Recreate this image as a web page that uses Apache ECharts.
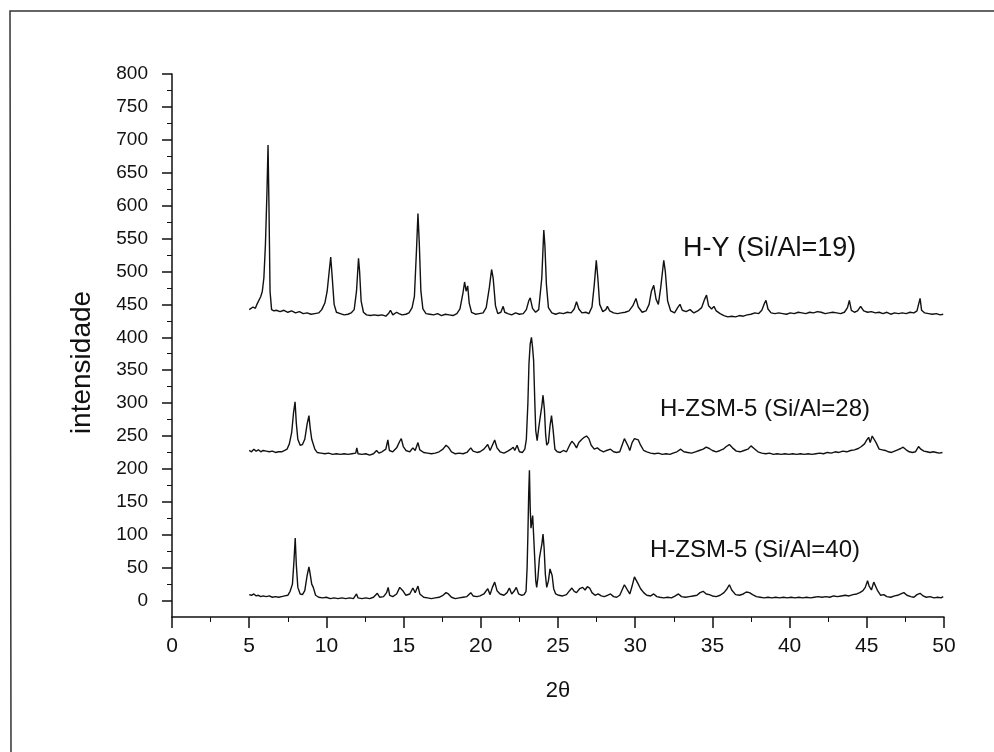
<!DOCTYPE html>
<html>
<head>
<meta charset="UTF-8">
<title>DRX zeolitas</title>
<script src="https://cdn.jsdelivr.net/npm/echarts@6/dist/echarts.min.js"></script>
<style>
  html, body { margin: 0; padding: 0; background: #fff; }
</style>
</head>
<body>
<div id="main" style="width: 994px; height: 752px;"></div>
<script>
// 2θ / intensidade pairs
const hyData = [
  [5.0,442],[5.1,440],[5.25,446],[5.4,444],[5.5,450],[5.6,452],[5.75,462],[5.85,470],[5.95,490],[6.05,540],[6.15,620],[6.22,692],[6.28,600],[6.35,470],[6.45,442],[6.6,440],[6.75,441],[7.0,439],[7.25,441],[7.5,438],[7.75,440],[8.0,437],[8.25,439],[8.5,436],[8.75,437],[9.0,435],[9.25,436],[9.5,437],[9.7,442],[9.9,452],[10.05,470],[10.18,500],[10.28,522],[10.38,490],[10.5,450],[10.65,438],[10.9,436],[11.15,434],[11.4,435],[11.6,437],[11.8,442],[11.95,470],[12.08,520],[12.15,500],[12.25,455],[12.4,438],[12.6,434],[12.85,433],[13.1,434],[13.35,433],[13.6,434],[13.85,432],[14.05,437],[14.15,441],[14.3,434],[14.55,438],[14.7,436],[14.9,434],[15.15,435],[15.35,437],[15.55,445],[15.7,462],[15.83,530],[15.93,588],[16.02,540],[16.12,470],[16.25,443],[16.45,436],[16.7,435],[16.95,434],[17.2,436],[17.45,433],[17.7,435],[17.95,434],[18.2,433],[18.45,436],[18.65,443],[18.85,468],[18.95,484],[19.05,470],[19.15,478],[19.25,452],[19.4,438],[19.65,435],[19.9,436],[20.15,437],[20.35,445],[20.55,475],[20.7,503],[20.8,490],[20.95,448],[21.1,436],[21.3,438],[21.45,447],[21.55,438],[21.75,436],[22.0,434],[22.25,437],[22.5,435],[22.75,436],[22.95,442],[23.1,455],[23.2,460],[23.35,444],[23.55,438],[23.75,442],[23.95,490],[24.08,563],[24.15,540],[24.25,480],[24.38,445],[24.6,437],[24.85,435],[25.1,437],[25.35,436],[25.6,438],[25.85,437],[26.05,443],[26.2,454],[26.35,443],[26.55,437],[26.8,438],[27.0,436],[27.2,446],[27.35,480],[27.48,517],[27.58,490],[27.7,450],[27.9,439],[28.1,442],[28.2,447],[28.35,440],[28.6,437],[28.85,436],[29.1,437],[29.35,438],[29.6,440],[29.85,448],[30.05,459],[30.2,446],[30.45,438],[30.7,440],[30.9,450],[31.05,470],[31.2,479],[31.35,458],[31.5,450],[31.65,475],[31.85,517],[31.95,500],[32.1,455],[32.3,440],[32.55,437],[32.75,445],[32.9,450],[33.05,441],[33.3,439],[33.55,442],[33.8,437],[34.05,440],[34.3,445],[34.5,458],[34.62,464],[34.75,448],[34.95,443],[35.1,447],[35.25,440],[35.5,436],[35.75,433],[36.0,431],[36.25,432],[36.5,431],[36.75,433],[37.0,432],[37.25,434],[37.5,435],[37.75,437],[38.0,436],[38.2,441],[38.38,452],[38.47,456],[38.6,443],[38.8,437],[39.05,436],[39.3,437],[39.55,436],[39.8,435],[40.05,437],[40.3,436],[40.55,438],[40.8,437],[41.05,436],[41.3,438],[41.55,437],[41.8,439],[42.05,438],[42.3,436],[42.55,437],[42.8,438],[43.05,437],[43.3,436],[43.55,438],[43.75,445],[43.87,456],[44.0,441],[44.2,438],[44.4,440],[44.6,447],[44.8,440],[45.05,438],[45.3,439],[45.55,437],[45.8,438],[46.05,436],[46.3,438],[46.55,435],[46.8,437],[47.05,436],[47.3,437],[47.55,436],[47.8,438],[48.05,437],[48.25,440],[48.45,459],[48.55,441],[48.75,437],[49.0,436],[49.25,435],[49.5,436],[49.75,434],[49.95,435]
];

const zsm28Data = [
  [5.0,228],[5.15,226],[5.3,230],[5.45,227],[5.6,229],[5.75,226],[5.9,228],[6.1,227],[6.3,226],[6.5,227],[6.7,225],[6.9,226],[7.1,226],[7.3,228],[7.45,230],[7.6,238],[7.75,255],[7.87,285],[7.97,302],[8.05,270],[8.15,245],[8.3,236],[8.45,237],[8.6,245],[8.75,268],[8.87,281],[8.95,262],[9.05,245],[9.12,248],[9.25,230],[9.4,225],[9.65,224],[9.9,223],[10.15,224],[10.4,222],[10.65,223],[10.9,222],[11.15,223],[11.4,222],[11.65,223],[11.9,224],[11.97,232],[12.05,223],[12.3,222],[12.55,223],[12.8,221],[13.05,223],[13.25,228],[13.4,224],[13.6,226],[13.85,230],[13.98,244],[14.08,228],[14.3,226],[14.55,232],[14.75,242],[14.85,246],[14.98,234],[15.15,228],[15.4,226],[15.6,232],[15.75,228],[15.93,240],[16.05,229],[16.3,225],[16.55,224],[16.8,223],[17.05,224],[17.3,226],[17.55,230],[17.75,236],[17.9,233],[18.1,226],[18.35,223],[18.6,224],[18.85,223],[19.1,225],[19.35,232],[19.5,227],[19.75,225],[19.95,226],[20.2,230],[20.45,237],[20.6,228],[20.75,236],[20.9,244],[21.05,232],[21.25,226],[21.5,224],[21.75,227],[21.95,230],[22.1,233],[22.2,228],[22.35,236],[22.5,226],[22.7,225],[22.85,230],[22.95,245],[23.05,300],[23.12,360],[23.2,390],[23.28,400],[23.35,385],[23.42,365],[23.5,300],[23.56,258],[23.65,243],[23.75,262],[23.85,279],[23.95,295],[24.03,312],[24.12,290],[24.2,252],[24.27,236],[24.38,240],[24.48,265],[24.58,281],[24.68,260],[24.8,230],[24.95,226],[25.15,225],[25.35,228],[25.55,226],[25.75,236],[25.9,242],[26.05,238],[26.2,232],[26.35,240],[26.55,245],[26.7,248],[26.85,250],[27.0,246],[27.15,236],[27.35,230],[27.55,232],[27.75,228],[27.95,226],[28.15,228],[28.4,230],[28.6,226],[28.8,225],[29.0,226],[29.15,236],[29.3,246],[29.42,249],[29.55,234],[29.65,228],[29.8,240],[29.95,246],[30.05,248],[30.2,244],[30.35,236],[30.55,228],[30.75,226],[31.0,224],[31.25,223],[31.5,224],[31.75,222],[32.0,223],[32.25,222],[32.45,224],[32.7,226],[32.95,230],[33.15,226],[33.4,225],[33.65,224],[33.9,226],[34.15,228],[34.4,230],[34.6,233],[34.8,231],[35.0,228],[35.25,226],[35.5,228],[35.7,230],[35.9,234],[36.1,237],[36.3,232],[36.55,227],[36.8,226],[37.05,228],[37.3,230],[37.5,235],[37.7,231],[37.95,226],[38.2,224],[38.45,223],[38.7,224],[38.95,222],[39.2,223],[39.45,222],[39.7,223],[39.95,222],[40.2,223],[40.45,222],[40.7,223],[40.95,222],[41.2,223],[41.45,222],[41.7,223],[41.95,224],[42.2,223],[42.45,225],[42.7,224],[42.95,226],[43.2,225],[43.45,227],[43.7,226],[43.95,228],[44.2,229],[44.45,231],[44.65,234],[44.85,238],[45.0,244],[45.12,248],[45.22,240],[45.35,250],[45.45,253],[45.6,240],[45.8,230],[46.0,229],[46.2,228],[46.4,226],[46.6,225],[46.8,227],[47.0,229],[47.2,231],[47.35,233],[47.55,229],[47.75,226],[47.95,225],[48.15,226],[48.35,234],[48.5,230],[48.7,227],[48.9,226],[49.1,225],[49.3,226],[49.5,225],[49.7,224],[49.9,225]
];

const zsm40Data = [
  [5.0,9],[5.15,8],[5.3,10],[5.45,7],[5.6,8],[5.75,6],[5.9,7],[6.1,6],[6.3,7],[6.5,5],[6.7,6],[6.9,5],[7.1,6],[7.3,7],[7.5,8],[7.65,14],[7.8,25],[7.9,60],[7.98,95],[8.05,55],[8.15,20],[8.3,10],[8.45,9],[8.6,15],[8.75,38],[8.87,51],[8.95,40],[9.05,25],[9.15,20],[9.3,8],[9.5,5],[9.75,4],[10.0,5],[10.25,3],[10.5,4],[10.75,3],[11.0,4],[11.25,3],[11.5,4],[11.75,3],[11.95,10],[12.05,4],[12.3,3],[12.55,4],[12.8,3],[13.05,5],[13.3,11],[13.45,5],[13.7,6],[13.9,12],[14.0,20],[14.1,8],[14.3,6],[14.55,10],[14.75,20],[14.85,23],[14.98,14],[15.15,8],[15.4,10],[15.6,19],[15.75,12],[15.93,22],[16.05,10],[16.3,5],[16.55,4],[16.8,3],[17.05,4],[17.3,5],[17.55,8],[17.75,12],[17.9,10],[18.1,5],[18.35,3],[18.6,4],[18.85,5],[19.1,6],[19.35,12],[19.5,7],[19.75,6],[19.95,7],[20.2,10],[20.45,18],[20.6,9],[20.75,20],[20.9,28],[21.05,15],[21.25,10],[21.5,8],[21.7,12],[21.85,19],[22.0,10],[22.15,14],[22.3,20],[22.45,10],[22.65,8],[22.8,9],[22.93,14],[23.0,50],[23.05,100],[23.1,160],[23.15,198],[23.2,140],[23.25,110],[23.3,118],[23.36,129],[23.42,100],[23.5,60],[23.56,30],[23.62,20],[23.7,35],[23.8,65],[23.88,76],[23.95,85],[24.03,101],[24.1,80],[24.18,40],[24.27,20],[24.38,30],[24.48,48],[24.55,50],[24.62,38],[24.72,18],[24.85,10],[25.05,8],[25.3,7],[25.55,9],[25.75,15],[25.9,19],[26.05,14],[26.2,12],[26.4,18],[26.6,20],[26.75,16],[26.9,21],[27.05,19],[27.2,12],[27.4,8],[27.6,10],[27.8,7],[28.0,6],[28.2,8],[28.4,10],[28.6,6],[28.8,5],[29.0,8],[29.15,16],[29.3,24],[29.42,25],[29.55,14],[29.65,10],[29.8,22],[29.95,36],[30.05,38],[30.2,25],[30.35,18],[30.55,12],[30.75,8],[31.0,7],[31.2,10],[31.4,6],[31.6,5],[31.85,4],[32.1,5],[32.35,4],[32.6,7],[32.8,10],[33.0,6],[33.25,5],[33.5,6],[33.75,7],[34.0,8],[34.2,12],[34.4,14],[34.6,10],[34.8,9],[35.0,7],[35.25,6],[35.5,8],[35.75,12],[35.95,18],[36.1,24],[36.25,16],[36.5,9],[36.75,8],[37.0,10],[37.2,13],[37.4,12],[37.6,9],[37.85,6],[38.1,5],[38.35,4],[38.6,5],[38.85,4],[39.1,5],[39.35,4],[39.6,5],[39.85,4],[40.1,5],[40.35,4],[40.6,5],[40.85,4],[41.1,5],[41.35,4],[41.6,5],[41.85,6],[42.1,5],[42.35,6],[42.6,5],[42.85,7],[43.1,6],[43.35,7],[43.6,8],[43.85,7],[44.1,9],[44.35,10],[44.55,12],[44.75,15],[44.9,20],[45.05,30],[45.15,22],[45.3,16],[45.45,28],[45.55,30],[45.7,15],[45.9,8],[46.1,9],[46.3,6],[46.55,5],[46.8,7],[47.0,8],[47.2,10],[47.4,12],[47.6,8],[47.85,6],[48.05,5],[48.25,9],[48.45,11],[48.65,7],[48.85,5],[49.1,6],[49.35,4],[49.6,5],[49.8,4],[49.95,6]
];

const seriesNames = ['H-Y (Si/Al=19)', 'H-ZSM-5 (Si/Al=28)', 'H-ZSM-5 (Si/Al=40)'];
const yTickValues = [0, 50, 100, 150, 200, 250, 300, 350, 400, 450, 500, 550, 600, 650, 700, 750, 800];
const yMinorValues = [25, 75, 125, 175, 225, 275, 325, 375, 425, 475, 525, 575, 625, 675, 725, 775];

const FONT = '"Liberation Sans", Arial, sans-serif';
const chart = echarts.init(document.getElementById('main'));

const lineSeries = (name, data) => ({
  name: name,
  type: 'line',
  data: data,
  showSymbol: false,
  symbol: 'none',
  lineStyle: { color: '#111', width: 1.4 },
  animation: false
});

chart.setOption({
  backgroundColor: '#fff',
  animation: false,
  grid: { left: 172, right: 50, top: 74, bottom: 135 },
  xAxis: {
    type: 'value',
    min: 0, max: 50, interval: 5,
    name: '2θ',
    nameLocation: 'middle',
    nameGap: 63,
    nameTextStyle: { fontFamily: FONT, fontSize: 22, color: '#111' },
    axisLine: { onZero: false, lineStyle: { color: '#111', width: 1.5 } },
    axisTick: { length: 11, lineStyle: { color: '#111', width: 1.5 } },
    minorTick: { show: true, splitNumber: 2, length: 5, lineStyle: { color: '#111' } },
    axisLabel: { fontFamily: FONT, fontSize: 21, color: '#111', margin: 19 },
    splitLine: { show: false }
  },
  yAxis: [{
    type: 'value',
    min: -25, max: 800,
    name: 'intensidade',
    nameLocation: 'middle',
    nameGap: 76,
    nameTextStyle: { fontFamily: FONT, fontSize: 28, color: '#111', padding: [0, 34, 0, 0] },
    axisLine: { show: true, onZero: false, lineStyle: { color: '#111', width: 1.5 } },
    axisTick: { show: true, length: 10, customValues: yTickValues, lineStyle: { color: '#111', width: 1.5 } },
    axisLabel: { fontFamily: FONT, fontSize: 19, color: '#111', margin: 24, customValues: yTickValues },
    splitLine: { show: false }
  }, {
    type: 'value',
    position: 'left',
    min: -25, max: 800,
    axisLine: { show: false },
    axisTick: { show: true, length: 5, customValues: yMinorValues, lineStyle: { color: '#111' } },
    axisLabel: { show: false },
    splitLine: { show: false }
  }],
  series: [
    lineSeries(seriesNames[0], hyData),
    lineSeries(seriesNames[1], zsm28Data),
    lineSeries(seriesNames[2], zsm40Data)
  ],
  graphic: [
    { type: 'polyline', silent: true, shape: { points: [[11, 752], [10, 11], [994, 11]] },
      style: { stroke: '#333', lineWidth: 1.5, fill: null } },
    { type: 'text', left: 683, top: 235, silent: true,
      style: { text: seriesNames[0], font: '27px ' + FONT, fill: '#111' } },
    { type: 'text', left: 660, top: 397, silent: true,
      style: { text: seriesNames[1], font: '24px ' + FONT, fill: '#111' } },
    { type: 'text', left: 650, top: 538, silent: true,
      style: { text: seriesNames[2], font: '24px ' + FONT, fill: '#111' } }
  ]
});
</script>
</body>
</html>
